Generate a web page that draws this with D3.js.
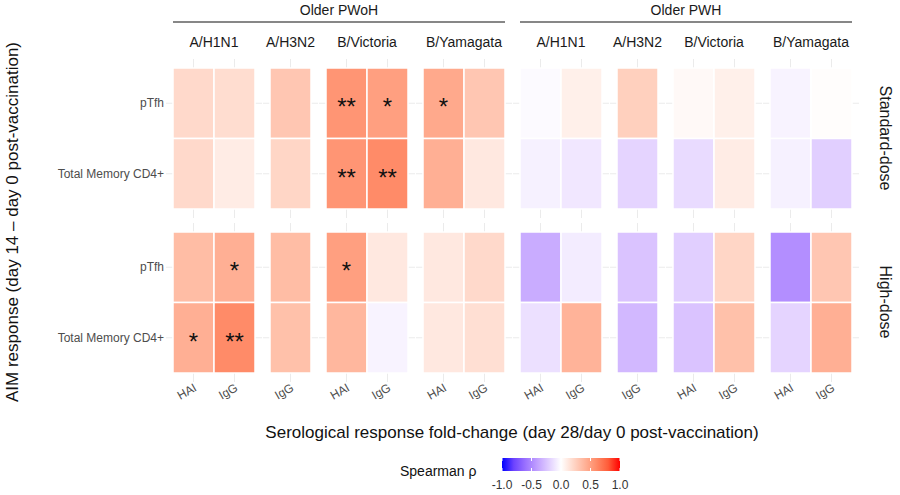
<!DOCTYPE html>
<html><head><meta charset="utf-8">
<script src="https://cdn.jsdelivr.net/npm/d3@7"></script>
<style>body{margin:0;background:#fff;font-family:"Liberation Sans",Arial,sans-serif}</style>
</head><body><svg id="c" width="900" height="495"></svg>
<script>
// facets: group x strain, each with its assays
var groups = ['Older PWoH', 'Older PWH'];
var strains = ['A/H1N1', 'A/H3N2', 'B/Victoria', 'B/Yamagata'];
var assays = {'A/H1N1': ['HAI', 'IgG'], 'A/H3N2': ['IgG'], 'B/Victoria': ['HAI', 'IgG'], 'B/Yamagata': ['HAI', 'IgG']};
var doses = ['Standard-dose', 'High-dose'];
var cells = ['pTfh', 'Total Memory CD4+'];

// rho per dose/cell, in column order (PWoH H1N1 HAI, IgG, H3N2 IgG, ... then PWH)
var rhoStdPtfh = [0.20, 0.18, 0.30, 0.55, 0.50, 0.45, 0.30,  -0.02, 0.08, 0.25, 0.03, 0.08, -0.05, 0.01];
var rhoStdMem  = [0.20, 0.10, 0.22, 0.55, 0.60, 0.42, 0.12,  -0.06, -0.10, -0.18, -0.15, 0.10, -0.06, -0.20];
var rhoHighPtfh = [0.35, 0.42, 0.35, 0.50, 0.12, 0.12, 0.20,  -0.35, -0.08, -0.25, -0.20, 0.22, -0.48, 0.30];
var rhoHighMem  = [0.42, 0.60, 0.33, 0.38, -0.05, 0.12, 0.17,  -0.13, 0.40, -0.30, -0.25, 0.33, -0.18, 0.42];
var sigStdPtfh = ['', '', '', '**', '*', '*', '',  '', '', '', '', '', '', ''];
var sigStdMem  = ['', '', '', '**', '**', '', '',  '', '', '', '', '', '', ''];
var sigHighPtfh = ['', '*', '', '*', '', '', '',  '', '', '', '', '', '', ''];
var sigHighMem  = ['*', '**', '', '', '', '', '',  '', '', '', '', '', '', ''];
var legendTicks = [-1, -0.5, 0, 0.5, 1];

var rho = [[rhoStdPtfh, rhoStdMem], [rhoHighPtfh, rhoHighMem]];
var sig = [[sigStdPtfh, sigStdMem], [sigHighPtfh, sigHighMem]];

var svg = d3.select('#c');
var fill = d3.scaleLinear().domain([-1, 0, 1]).range(['blue', 'white', 'red']).interpolate(d3.interpolateLab);

var x0 = 173, cw = 41, gap = 15;
var panels = [], cols = [], cx = x0;
groups.forEach(function(g){
    strains.forEach(function(s){
        var p = {group: g, strain: s, x: cx, w: assays[s].length * cw};
        p.scale = d3.scaleBand().domain(assays[s]).range([p.x, p.x + p.w]);
        panels.push(p);
        assays[s].forEach(function(a){ cols.push({panel: p, assay: a}); });
        cx += p.w + gap;
    });
});
var rowY = {'Standard-dose': 68, 'High-dose': 232};
var yScales = doses.map(function(d){ return d3.scaleBand().domain(cells).range([rowY[d], rowY[d] + 141]); });

// gridlines peeking out of panels
panels.forEach(function(p){
    doses.forEach(function(d, di){
        var y = yScales[di];
        var g = svg.append('g').attr('stroke', '#ebebeb').attr('stroke-width', 1);
        p.scale.domain().forEach(function(a){
            var xx = p.scale(a) + cw / 2;
            g.append('line').attr('x1', xx).attr('x2', xx).attr('y1', y.range()[0] - 9).attr('y2', y.range()[1] + 9);
        });
        cells.forEach(function(c){
            var yy = y(c) + y.bandwidth() / 2;
            g.append('line').attr('x1', p.x - 7).attr('x2', p.x + p.w + 7).attr('y1', yy).attr('y2', yy);
        });
    });
});

// tiles
doses.forEach(function(d, di){
    var y = yScales[di];
    cells.forEach(function(c, ci){
        cols.forEach(function(col, k){
            var xx = col.panel.scale(col.assay);
            svg.append('rect').attr('x', xx).attr('y', y(c)).attr('width', col.panel.scale.bandwidth()).attr('height', y.bandwidth())
                .attr('fill', fill(rho[di][ci][k])).attr('stroke', 'white').attr('stroke-width', 1.5);
            if (sig[di][ci][k]) {
                svg.append('text').attr('x', xx + cw / 2).attr('y', y(c) + y.bandwidth() / 2 + 12)
                    .attr('text-anchor', 'middle').attr('font-size', 24).attr('fill', '#111').text(sig[di][ci][k]);
            }
        });
        svg.append('text').attr('x', 164).attr('y', y(c) + y.bandwidth() / 2 + 4).attr('text-anchor', 'end')
            .attr('font-size', 12).attr('fill', '#4d4d4d').text(c);
    });
    svg.append('text').attr('transform', 'translate(880,' + (rowY[d] + 70) + ') rotate(90)')
        .attr('text-anchor', 'middle').attr('font-size', 16).attr('fill', '#1a1a1a').text(d);
});

// x tick labels
cols.forEach(function(col){
    var xx = col.panel.scale(col.assay) + cw / 2;
    svg.append('text').attr('transform', 'translate(' + (xx + 4) + ',390) rotate(-30)')
        .attr('text-anchor', 'end').attr('font-size', 12).attr('fill', '#4d4d4d').text(col.assay);
});

// strip headers
panels.forEach(function(p){
    svg.append('text').attr('x', p.x + p.w / 2).attr('y', 47).attr('text-anchor', 'middle')
        .attr('font-size', 14).attr('fill', '#1a1a1a').text(p.strain);
});
groups.forEach(function(g){
    var ps = panels.filter(function(p){ return p.group === g; });
    var a = ps[0].x, b = ps[ps.length - 1].x + ps[ps.length - 1].w;
    svg.append('line').attr('x1', a).attr('x2', b).attr('y1', 22).attr('y2', 22).attr('stroke', '#111').attr('stroke-width', 1.2);
    svg.append('text').attr('x', (a + b) / 2).attr('y', 15).attr('text-anchor', 'middle')
        .attr('font-size', 14).attr('fill', '#1a1a1a').text(g);
});

// axis titles
svg.append('text').attr('x', 512).attr('y', 438).attr('text-anchor', 'middle').attr('font-size', 17).attr('fill', '#111')
    .text('Serological response fold-change (day 28/day 0 post-vaccination)');
svg.append('text').attr('transform', 'translate(18,222) rotate(-90)').attr('text-anchor', 'middle').attr('font-size', 17).attr('fill', '#111')
    .text('AIM response (day 14 \u2013 day 0 post-vaccination)');

// legend
var lx = d3.scaleLinear().domain([-1, 1]).range([502, 620]);
var grad = svg.append('defs').append('linearGradient').attr('id', 'lg');
d3.range(0, 1.0001, 0.1).forEach(function(t){
    grad.append('stop').attr('offset', t).attr('stop-color', fill(-1 + 2 * t));
});
svg.append('rect').attr('x', 502).attr('y', 458).attr('width', 118).attr('height', 13).attr('fill', 'url(#lg)');
legendTicks.forEach(function(v){
    svg.append('line').attr('x1', lx(v)).attr('x2', lx(v)).attr('y1', 458).attr('y2', 461).attr('stroke', '#fff');
    svg.append('line').attr('x1', lx(v)).attr('x2', lx(v)).attr('y1', 468).attr('y2', 471).attr('stroke', '#fff');
    svg.append('text').attr('x', lx(v)).attr('y', 489).attr('text-anchor', 'middle').attr('font-size', 12).attr('fill', '#333').text(v.toFixed(1));
});
svg.append('text').attr('x', 400).attr('y', 476).attr('font-size', 14).attr('fill', '#111').text('Spearman \u03c1');
</script></body></html>
